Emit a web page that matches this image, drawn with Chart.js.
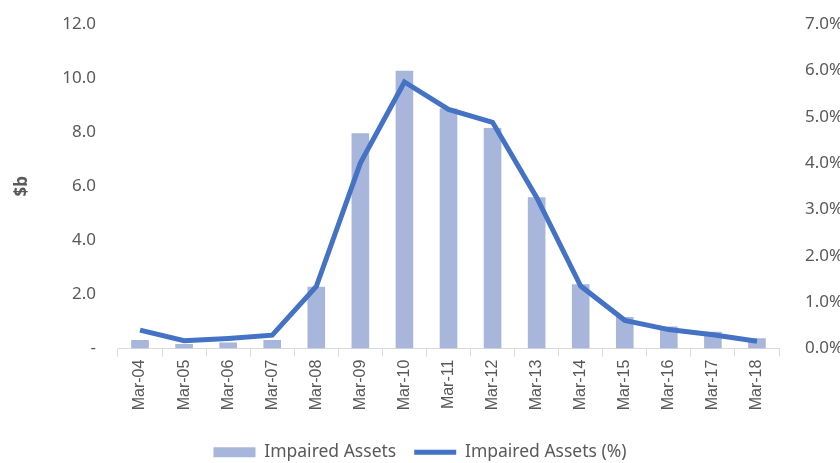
<!DOCTYPE html>
<html lang="en">
<head>
    <meta charset="UTF-8">
    <title>Impaired Assets</title>
    <script src="https://cdn.jsdelivr.net/npm/chart.js"></script>
    <style>
        body {
            margin: 0;
            padding: 0;
            background: #fff;
        }
        .chart-box {
            width: 840px;
            height: 463px;
        }
    </style>
</head>
<body>
    <div class="chart-box">
        <canvas id="chart"></canvas>
    </div>

    <script>
        const categories = ['Mar-04', 'Mar-05', 'Mar-06', 'Mar-07', 'Mar-08', 'Mar-09', 'Mar-10', 'Mar-11',
                            'Mar-12', 'Mar-13', 'Mar-14', 'Mar-15', 'Mar-16', 'Mar-17', 'Mar-18'];
        const impairedAssets = [0.32, 0.17, 0.23, 0.32, 2.29, 7.96, 10.27, 8.88, 8.16, 5.6, 2.38, 1.17, 0.82, 0.62, 0.38];
        const impairedPct = [0.40, 0.17, 0.22, 0.29, 1.34, 4.0, 5.75, 5.16, 4.88, 3.26, 1.35, 0.61, 0.41, 0.30, 0.16];

        const grey = '#595959';
        const tickFont = { family: 'Noto Sans', size: 17 };

        new Chart(document.getElementById('chart').getContext('2d'), {
            type: 'bar',
            data: {
                labels: categories,
                datasets: [
                    {
                        type: 'line',
                        label: 'Impaired Assets (%)',
                        data: impairedPct,
                        yAxisID: 'y1',
                        borderColor: '#4472C4',
                        backgroundColor: '#4472C4',
                        borderWidth: 5,
                        pointRadius: 0,
                        tension: 0,
                        pointStyle: 'line'
                    },
                    {
                        label: 'Impaired Assets',
                        data: impairedAssets,
                        yAxisID: 'y',
                        backgroundColor: '#A9B6DC',
                        borderWidth: 0,
                        categoryPercentage: 1,
                        barPercentage: 0.4,
                        pointStyle: 'rect'
                    }
                ]
            },
            options: {
                responsive: true,
                maintainAspectRatio: false,
                animation: false,
                layout: { padding: { top: 0, left: 0, right: 0, bottom: -8 } },
                plugins: {
                    tooltip: { enabled: false },
                    legend: {
                        position: 'bottom',
                        title: {
                            display: true,
                            text: ' ',
                            font: { size: 1 },
                            padding: { top: 0, bottom: 11 }
                        },
                        labels: {
                            usePointStyle: true,
                            pointStyleWidth: 42,
                            boxHeight: 10,
                            color: grey,
                            font: { family: 'Noto Sans', size: 17.5 },
                            padding: 18,
                            sort: (a, b) => b.datasetIndex - a.datasetIndex
                        }
                    }
                },
                scales: {
                    x: {
                        grid: {
                            offset: true,
                            drawOnChartArea: false,
                            color: '#D9D9D9',
                            tickLength: 8
                        },
                        border: { color: '#D9D9D9' },
                        ticks: {
                            color: grey,
                            font: { family: 'Liberation Sans', size: 16 },
                            maxRotation: 90,
                            minRotation: 90,
                            autoSkip: false
                        }
                    },
                    y: {
                        position: 'left',
                        min: 0,
                        max: 12,
                        grid: { display: false },
                        border: { display: false },
                        ticks: {
                            stepSize: 2,
                            color: grey,
                            font: tickFont,
                            padding: 14,
                            callback: v => v === 0 ? '-' : v.toFixed(1)
                        },
                        title: {
                            display: true,
                            text: '$b',
                            color: grey,
                            padding: { top: 12, bottom: 4 },
                            font: { family: 'Noto Sans', size: 17, weight: 'bold' }
                        },
                        afterFit: s => {
                            s.width = 118;
                            s.paddingTop = 24;
                            s.paddingBottom = 10;
                        }
                    },
                    y1: {
                        position: 'right',
                        min: 0,
                        max: 7,
                        grid: { display: false },
                        border: { display: false },
                        ticks: {
                            stepSize: 1,
                            color: grey,
                            font: tickFont,
                            padding: 18,
                            callback: v => v.toFixed(1) + '%'
                        },
                        afterFit: s => {
                            s.width = 61;
                            s.paddingTop = 24;
                            s.paddingBottom = 10;
                        }
                    }
                }
            }
        });
    </script>
</body>
</html>
